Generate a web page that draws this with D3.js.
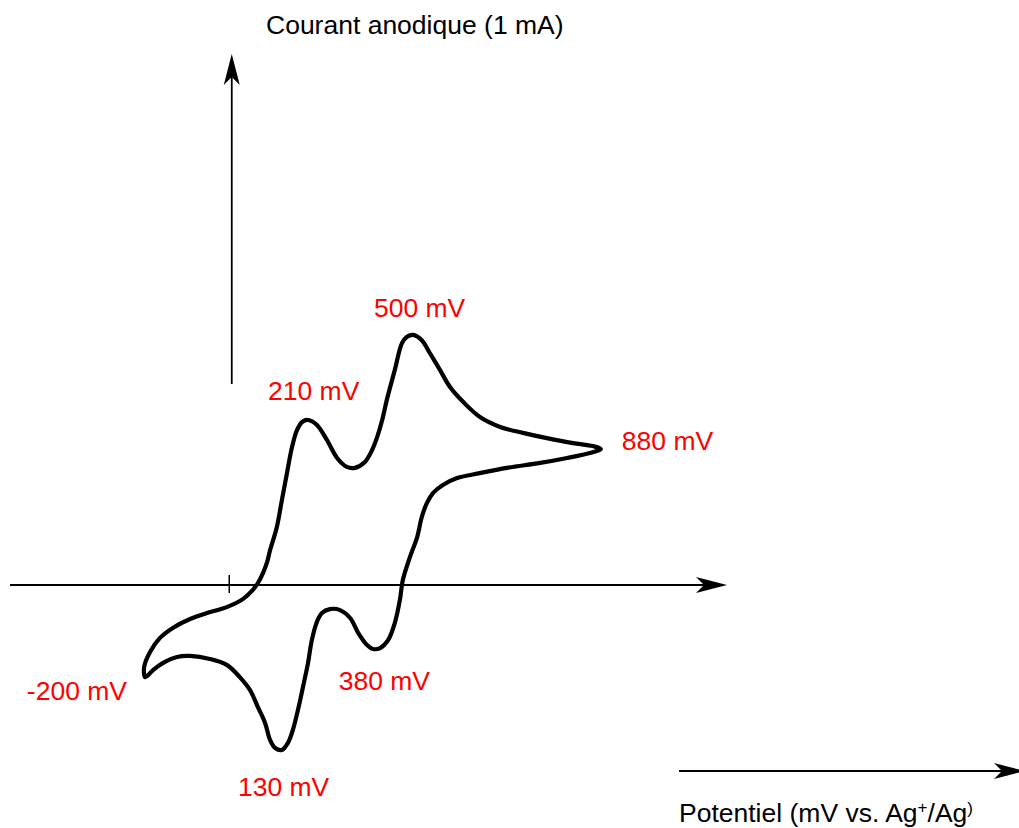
<!DOCTYPE html>
<html>
<head>
<meta charset="utf-8">
<script src="https://cdn.jsdelivr.net/npm/d3@7"></script>
<style>
body { margin: 0; background: #fff; }
svg { display: block; font-family: "Liberation Sans", Arial, sans-serif; }
</style>
</head>
<body>
<div id="chart"></div>
<script>
// potential (mV vs Ag+/Ag) and current (mA), traced around the closed loop
var potential = [-200, -202, -188, -165, -134, -93, -53, -6, 33, 56, 68, 80, 90, 97, 113, 125, 137, 149, 161, 173, 187, 208, 232, 256, 279, 298, 322, 339, 351, 363, 374, 393, 410, 422, 436, 457, 476, 500, 524, 555, 595, 643, 697, 754, 816, 863, 882,
	856, 802, 738, 659, 595, 541, 507, 484, 469, 457, 446, 429, 412, 405, 393, 377, 358, 341, 327, 306, 287, 263, 239, 220, 208, 196, 187, 175, 163, 151, 139, 125, 109, 97, 85, 68, 49, 25, -6, -46, -93, -124, -157, -181, -195];
var current = [-0.279, -0.248, -0.203, -0.161, -0.130, -0.103, -0.085, -0.067, -0.042, -0.015, 0.006, 0.036, 0.070, 0.106, 0.176, 0.258, 0.339, 0.418, 0.470, 0.494, 0.500, 0.485, 0.439, 0.385, 0.358, 0.355, 0.373, 0.409, 0.448, 0.500, 0.561, 0.652, 0.733, 0.752, 0.758, 0.742, 0.703, 0.652, 0.600, 0.555, 0.509, 0.479, 0.461, 0.445, 0.430, 0.421, 0.412,
	0.400, 0.385, 0.370, 0.355, 0.339, 0.324, 0.303, 0.279, 0.248, 0.206, 0.145, 0.085, 0.015, -0.045, -0.115, -0.167, -0.191, -0.194, -0.182, -0.145, -0.100, -0.076, -0.073, -0.085, -0.112, -0.167, -0.236, -0.309, -0.379, -0.439, -0.479, -0.500, -0.494, -0.470, -0.418, -0.370, -0.318, -0.279, -0.242, -0.224, -0.215, -0.218, -0.236, -0.258, -0.276];

// annotated peaks
var peakLabels = ["-200 mV", "210 mV", "500 mV", "880 mV", "380 mV", "130 mV"];
var peakPotential = [-200, 187, 436, 882, 350, 125];
var peakCurrent = [-0.279, 0.500, 0.758, 0.412, -0.194, -0.500];

var W = 1019, H = 828;
var svg = d3.select("#chart").append("svg").attr("width", W).attr("height", H);

var x = d3.scaleLinear().domain([-200, 880]).range([145, 600]);
var y = d3.scaleLinear().domain([0, 1]).range([585, 255]);

function arrowHead(tx, ty, angle) {
	return "translate(" + tx + "," + ty + ") rotate(" + angle + ")";
}
var headPath = "M0,0 L-31,-8 L-23,0 L-31,8 Z";

// horizontal axis
svg.append("line").attr("x1", 10).attr("x2", 710).attr("y1", y(0)).attr("y2", y(0))
	.attr("stroke", "#000").attr("stroke-width", 1.8);
svg.append("path").attr("d", headPath).attr("transform", arrowHead(727, y(0), 0)).attr("fill", "#000");
// tick at 0 mV
svg.append("line").attr("x1", x(0)).attr("x2", x(0)).attr("y1", y(0) - 10).attr("y2", y(0) + 8)
	.attr("stroke", "#000").attr("stroke-width", 1.5);

// vertical axis
var vx = x(0) + 2.5;
svg.append("line").attr("x1", vx).attr("x2", vx).attr("y1", 384).attr("y2", 70)
	.attr("stroke", "#000").attr("stroke-width", 1.8);
svg.append("path").attr("d", headPath).attr("transform", arrowHead(vx, 54, -90)).attr("fill", "#000");

// potential arrow bottom right
svg.append("line").attr("x1", 679).attr("x2", 1005).attr("y1", 771).attr("y2", 771)
	.attr("stroke", "#000").attr("stroke-width", 1.8);
svg.append("path").attr("d", headPath).attr("transform", arrowHead(1025, 771, 0)).attr("fill", "#000");

// voltammogram loop
var pts = potential.map(function(p, i) { return [p, current[i]]; });
var line = d3.line()
	.x(function(d) { return x(d[0]); })
	.y(function(d) { return y(d[1]); })
	.curve(d3.curveCatmullRomClosed.alpha(0.5));
svg.append("path").datum(pts)
	.attr("d", line)
	.attr("fill", "none")
	.attr("stroke", "#000")
	.attr("stroke-width", 4.2)
	.attr("stroke-linejoin", "round");

// labels
var offs = [[-18, 23, "end"], [-40, -20, "start"], [-39, -18, "start"], [21, 1, "start"], [-38, 41, "start"], [-44, 46, "start"]];
peakLabels.forEach(function(t, i) {
	svg.append("text")
		.attr("x", x(peakPotential[i]) + offs[i][0])
		.attr("y", y(peakCurrent[i]) + offs[i][1])
		.attr("text-anchor", offs[i][2])
		.attr("fill", "#ff0000")
		.attr("font-size", 26.5)
		.text(t);
});

svg.append("text").attr("x", 266).attr("y", 34).attr("font-size", 26.5).attr("fill", "#000")
	.text("Courant anodique (1 mA)");

var pt = svg.append("text").attr("x", 679).attr("y", 822).attr("font-size", 26.5).attr("fill", "#000");
pt.append("tspan").text("Potentiel (mV vs. Ag");
pt.append("tspan").attr("font-size", 17).attr("dy", -9).text("+");
pt.append("tspan").attr("dy", 9).text("/Ag");
pt.append("tspan").attr("font-size", 17).attr("dy", -8).text(")");
</script>
</body>
</html>
